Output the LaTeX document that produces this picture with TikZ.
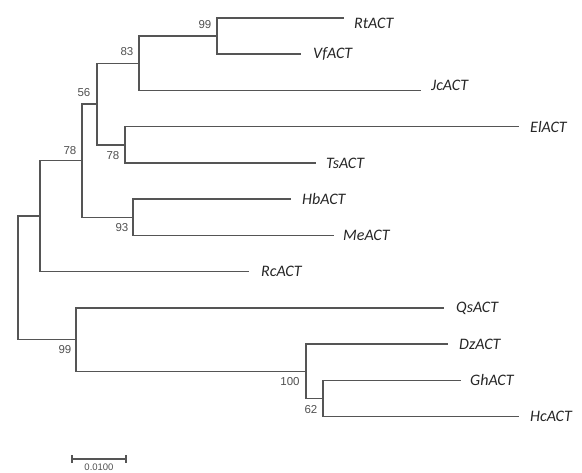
\documentclass[tikz,border=0pt]{standalone}
\usepackage{fontspec}
\setmainfont{Liberation Sans}
\newfontfamily\leaffont{Carlito}
\newfontfamily\numfont{Liberation Sans}
\definecolor{branchgrey}{HTML}{555555}
\definecolor{textgrey}{HTML}{262626}
\definecolor{numgrey}{HTML}{505050}
\begin{document}
\begin{tikzpicture}[x=1pt,y=-1pt,
  branch/.style={draw=branchgrey,line width=1.5pt,line cap=rect},
  leaf/.style={anchor=west,inner sep=0pt,text=textgrey,font=\leaffont\itshape\fontsize{16}{18}\selectfont},
  boot/.style={inner sep=0pt,text=numgrey,font=\numfont\fontsize{11.5}{12}\selectfont},
  scalelabel/.style={inner sep=0pt,text=numgrey,font=\numfont\fontsize{9.5}{10}\selectfont}]
\useasboundingbox (0,0) rectangle (582,473);
% internal nodes
\coordinate (A) at (217,36.1);
\coordinate (B) at (139,63.3);
\coordinate (C) at (125,144.9);
\coordinate (D) at (97,104.1);
\coordinate (E) at (133,217.4);
\coordinate (F) at (82,160.7);
\coordinate (G) at (40,216.2);
\coordinate (H) at (323,398.6);
\coordinate (I) at (306,371.4);
\coordinate (J) at (76,339.7);
\coordinate (R) at (18,278);
% tips
\coordinate (tRt) at (343,18);
\coordinate (tVf) at (300,54.25);
\coordinate (tJc) at (420,90.5);
\coordinate (tEl) at (518,126.75);
\coordinate (tTs) at (315,163);
\coordinate (tHb) at (290,199.25);
\coordinate (tMe) at (333,235.5);
\coordinate (tRc) at (248,271.75);
\coordinate (tQs) at (443,308);
\coordinate (tDz) at (447,344.25);
\coordinate (tGh) at (460,380.5);
\coordinate (tHc) at (518,416.75);
% branches
\path[branch] (A) |- (tRt) (A) |- (tVf);
\path[branch] (B) |- (A) (B) |- (tJc);
\path[branch] (C) |- (tEl) (C) |- (tTs);
\path[branch] (D) |- (B) (D) |- (C);
\path[branch] (E) |- (tHb) (E) |- (tMe);
\path[branch] (F) |- (D) (F) |- (E);
\path[branch] (G) |- (F) (G) |- (tRc);
\path[branch] (H) |- (tGh) (H) |- (tHc);
\path[branch] (I) |- (tDz) (I) |- (H);
\path[branch] (J) |- (tQs) (J) |- (I);
\path[branch] (R) |- (G) (R) |- (J);
% leaf labels
\node[leaf] (lRt) at ([xshift=11pt,yshift=-5pt]tRt) {RtACT};
\node[leaf] (lVf) at ([xshift=13pt]tVf) {VfACT};
\node[leaf] (lJc) at ([xshift=11pt,yshift=5pt]tJc) {JcACT};
\node[leaf] (lEl) at ([xshift=12pt]tEl) {ElACT};
\node[leaf] (lTs) at ([xshift=11pt]tTs) {TsACT};
\node[leaf] (lHb) at ([xshift=12pt]tHb) {HbACT};
\node[leaf] (lMe) at ([xshift=10pt]tMe) {MeACT};
\node[leaf] (lRc) at ([xshift=13pt]tRc) {RcACT};
\node[leaf] (lQs) at ([xshift=13pt]tQs) {QsACT};
\node[leaf] (lDz) at ([xshift=12pt]tDz) {DzACT};
\node[leaf] (lGh) at ([xshift=10pt]tGh) {GhACT};
\node[leaf] (lHc) at ([xshift=12pt]tHc) {HcACT};
% bootstrap values
\node[boot] (bA) at (205,25) {99};
\node[boot] (bB) at (127,52) {83};
\node[boot] (bD) at (84,93) {56};
\node[boot] (bC) at (113,156) {78};
\node[boot] (bF) at (70,151) {78};
\node[boot] (bE) at (122,228) {93};
\node[boot] (bJ) at (65,350) {99};
\node[boot] (bI) at (290,382) {100};
\node[boot] (bH) at (311,410) {62};
% scale bar
\coordinate (s1) at (72,459);
\coordinate (s2) at (126,459);
\draw[draw=branchgrey,line width=1.3pt] (s1) -- (s2);
\draw[draw=branchgrey,line width=1.3pt] ([yshift=-4pt]s1) -- ([yshift=4pt]s1);
\draw[draw=branchgrey,line width=1.3pt] ([yshift=-4pt]s2) -- ([yshift=4pt]s2);
\node[scalelabel,anchor=north] (sl) at (99,463.5) {0.0100};
\end{tikzpicture}
\end{document}
